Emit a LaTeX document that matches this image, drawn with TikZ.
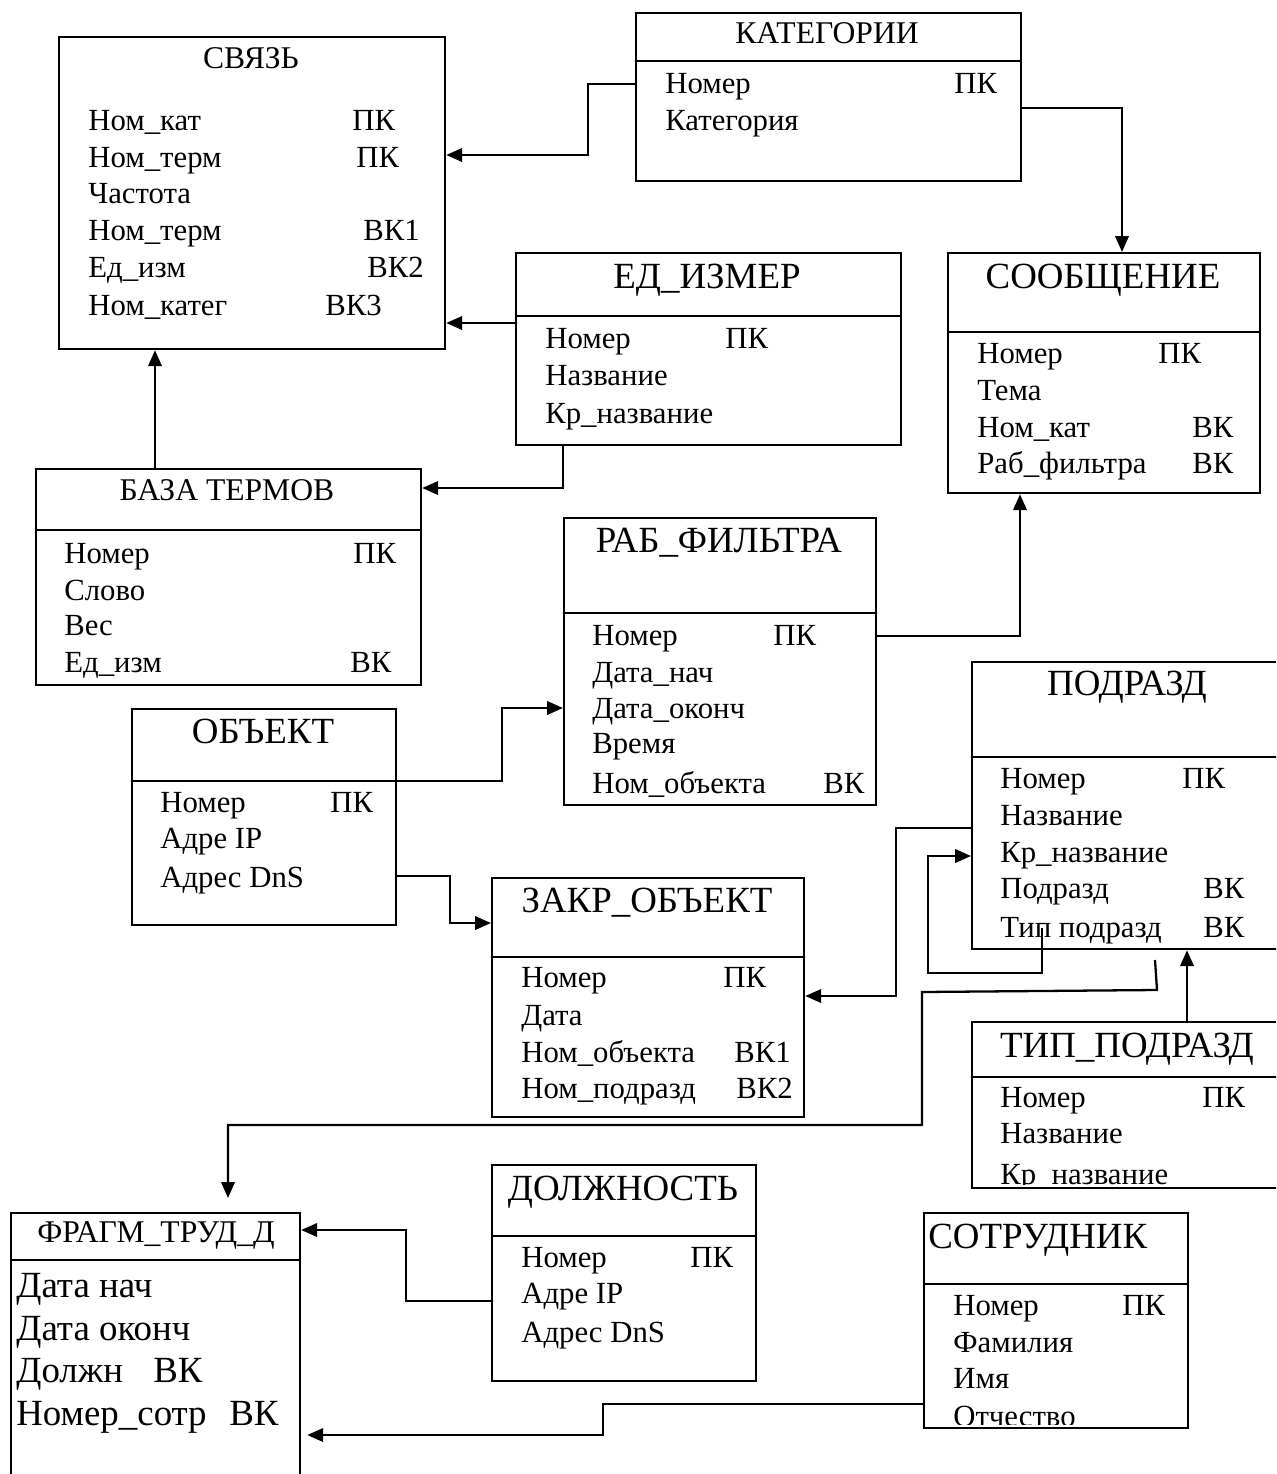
\documentclass[tikz,border=0pt]{standalone}
\usepackage{fontspec}
\setmainfont{Liberation Serif}
\usetikzlibrary{arrows.meta,positioning}

\begin{document}
\begin{tikzpicture}[
    x=0.02cm, y=-0.02cm,
    tbl/.style={draw, line width=1.3pt, anchor=north west, inner sep=0pt},
    sep/.style={line width=1.3pt},
    ttl/.style={anchor=base, inner sep=0pt, font=\fontsize{21}{24}\selectfont},
    sttl/.style={anchor=base, inner sep=0pt, font=\fontsize{18}{21}\selectfont},
    fld/.style={anchor=base west, inner sep=0pt, font=\fontsize{17.5}{20}\selectfont},
    bfld/.style={anchor=base west, inner sep=0pt, font=\fontsize{21}{24}\selectfont},
    conn/.style={line width=1.3pt, -{Triangle[length=0.32cm,width=0.27cm]}}
]
    \useasboundingbox (0,0) rectangle (1276,1474);
    \clip (0,0) rectangle (1276,1474);

    % СВЯЗЬ
    \node[tbl, minimum width=7.72cm, minimum height=6.24cm] (svyaz) at (58,36) {};
    \node[sttl] (svyaz-t) at (251,68) {СВЯЗЬ};
    \node[fld] (svyaz-1) at (88,130) {Ном\_кат};
    \node[fld] (svyaz-1k) at (352,130) {ПК};
    \node[fld] (svyaz-2) at (88,167) {Ном\_терм};
    \node[fld] (svyaz-2k) at (356,167) {ПК};
    \node[fld] (svyaz-3) at (88,203) {Частота};
    \node[fld] (svyaz-4) at (88,240) {Ном\_терм};
    \node[fld] (svyaz-4k) at (363,240) {ВК1};
    \node[fld] (svyaz-5) at (88,277) {Ед\_изм};
    \node[fld] (svyaz-5k) at (367,277) {ВК2};
    \node[fld] (svyaz-6) at (88,315) {Ном\_катег};
    \node[fld] (svyaz-6k) at (325,315) {ВК3};

    % КАТЕГОРИИ
    \node[tbl, minimum width=7.70cm, minimum height=3.36cm] (kateg) at (635,12) {};
    \draw[sep] (kateg.west |- 0,61) -- (kateg.east |- 0,61);
    \node[sttl] (kateg-t) at (827,43) {КАТЕГОРИИ};
    \node[fld] (kateg-1) at (665,93) {Номер};
    \node[fld] (kateg-1k) at (954,93) {ПК};
    \node[fld] (kateg-2) at (665,130) {Категория};

    % ЕД_ИЗМЕР
    \node[tbl, minimum width=7.70cm, minimum height=3.84cm] (edizm) at (515,252) {};
    \draw[sep] (edizm.west |- 0,316) -- (edizm.east |- 0,316);
    \node[ttl] (edizm-t) at (707,288) {ЕД\_ИЗМЕР};
    \node[fld] (edizm-1) at (545,348) {Номер};
    \node[fld] (edizm-1k) at (725,348) {ПК};
    \node[fld] (edizm-2) at (545,385) {Название};
    \node[fld] (edizm-3) at (545,423) {Кр\_название};

    % СООБЩЕНИЕ
    \node[tbl, minimum width=6.24cm, minimum height=4.80cm] (soobsch) at (947,252) {};
    \draw[sep] (soobsch.west |- 0,332) -- (soobsch.east |- 0,332);
    \node[ttl] (soobsch-t) at (1103,288) {СООБЩЕНИЕ};
    \node[fld] (soobsch-1) at (977,363) {Номер};
    \node[fld] (soobsch-1k) at (1158,363) {ПК};
    \node[fld] (soobsch-2) at (977,400) {Тема};
    \node[fld] (soobsch-3) at (977,437) {Ном\_кат};
    \node[fld] (soobsch-3k) at (1192,437) {ВК};
    \node[fld] (soobsch-4) at (977,473) {Раб\_фильтра};
    \node[fld] (soobsch-4k) at (1192,473) {ВК};

    % БАЗА ТЕРМОВ
    \node[tbl, minimum width=7.70cm, minimum height=4.32cm] (baza) at (35,468) {};
    \draw[sep] (baza.west |- 0,530) -- (baza.east |- 0,530);
    \node[sttl] (baza-t) at (227,500) {БАЗА ТЕРМОВ};
    \node[fld] (baza-1) at (64,563) {Номер};
    \node[fld] (baza-1k) at (353,563) {ПК};
    \node[fld] (baza-2) at (64,600) {Слово};
    \node[fld] (baza-3) at (64,635) {Вес};
    \node[fld] (baza-4) at (64,672) {Ед\_изм};
    \node[fld] (baza-4k) at (350,672) {ВК};

    % РАБ_ФИЛЬТРА
    \node[tbl, minimum width=6.24cm, minimum height=5.74cm] (rabf) at (563,517) {};
    \draw[sep] (rabf.west |- 0,613) -- (rabf.east |- 0,613);
    \node[ttl] (rabf-t) at (719,552) {РАБ\_ФИЛЬТРА};
    \node[fld] (rabf-1) at (592,645) {Номер};
    \node[fld] (rabf-1k) at (773,645) {ПК};
    \node[fld] (rabf-2) at (592,682) {Дата\_нач};
    \node[fld] (rabf-3) at (592,718) {Дата\_оконч};
    \node[fld] (rabf-4) at (592,753) {Время};
    \node[fld] (rabf-5) at (592,793) {Ном\_объекта};
    \node[fld] (rabf-5k) at (823,793) {ВК};

    % ОБЪЕКТ
    \node[tbl, minimum width=5.28cm, minimum height=4.32cm] (obj) at (131,708) {};
    \draw[sep] (obj.west |- 0,781) -- (obj.east |- 0,781);
    \node[ttl] (obj-t) at (263,743) {ОБЪЕКТ};
    \node[fld] (obj-1) at (160,812) {Номер};
    \node[fld] (obj-1k) at (330,812) {ПК};
    \node[fld] (obj-2) at (160,848) {Адре IP};
    \node[fld] (obj-3) at (160,887) {Адрес DnS};

    % ПОДРАЗД
    \node[tbl, minimum width=6.38cm, minimum height=5.74cm] (podr) at (971,661) {};
    \draw[sep] (podr.west |- 0,757) -- (podr.east |- 0,757);
    \node[ttl] (podr-t) at (1127,695) {ПОДРАЗД};
    \node[fld] (podr-1) at (1000,788) {Номер};
    \node[fld] (podr-1k) at (1182,788) {ПК};
    \node[fld] (podr-2) at (1000,825) {Название};
    \node[fld] (podr-3) at (1000,862) {Кр\_название};
    \node[fld] (podr-4) at (1000,898) {Подразд};
    \node[fld] (podr-4k) at (1203,898) {ВК};
    \node[fld] (podr-5) at (1000,937) {Тип подразд};
    \node[fld] (podr-5k) at (1203,937) {ВК};

    % ЗАКР_ОБЪЕКТ
    \node[tbl, minimum width=6.24cm, minimum height=4.78cm] (zakr) at (491,877) {};
    \draw[sep] (zakr.west |- 0,957) -- (zakr.east |- 0,957);
    \node[ttl] (zakr-t) at (647,912) {ЗАКР\_ОБЪЕКТ};
    \node[fld] (zakr-1) at (521,987) {Номер};
    \node[fld] (zakr-1k) at (723,987) {ПК};
    \node[fld] (zakr-2) at (521,1025) {Дата};
    \node[fld] (zakr-3) at (521,1062) {Ном\_объекта};
    \node[fld] (zakr-3k) at (734,1062) {ВК1};
    \node[fld] (zakr-4) at (521,1098) {Ном\_подразд};
    \node[fld] (zakr-4k) at (736,1098) {ВК2};

    % ТИП_ПОДРАЗД
    \node[tbl, minimum width=6.38cm, minimum height=3.32cm] (tip) at (971,1021) {};
    \draw[sep] (tip.west |- 0,1077) -- (tip.east |- 0,1077);
    \node[ttl] (tip-t) at (1127,1057) {ТИП\_ПОДРАЗД};
    \node[fld] (tip-1) at (1000,1107) {Номер};
    \node[fld] (tip-1k) at (1202,1107) {ПК};
    \node[fld] (tip-2) at (1000,1143) {Название};
    \begin{scope}
        \clip (tip.north west) rectangle ([yshift=0.1cm]tip.south east);
        \node[fld] (tip-3) at (1000,1184) {Кр\_название};
    \end{scope}

    % ДОЛЖНОСТЬ
    \node[tbl, minimum width=5.28cm, minimum height=4.32cm] (dolzh) at (491,1164) {};
    \draw[sep] (dolzh.west |- 0,1236) -- (dolzh.east |- 0,1236);
    \node[ttl] (dolzh-t) at (623,1200) {ДОЛЖНОСТЬ};
    \node[fld] (dolzh-1) at (521,1267) {Номер};
    \node[fld] (dolzh-1k) at (690,1267) {ПК};
    \node[fld] (dolzh-2) at (521,1303) {Адре IP};
    \node[fld] (dolzh-3) at (521,1342) {Адрес DnS};

    % СОТРУДНИК
    \node[tbl, minimum width=5.28cm, minimum height=4.30cm] (sotr) at (923,1212) {};
    \draw[sep] (sotr.west |- 0,1284) -- (sotr.east |- 0,1284);
    \node[ttl, anchor=base west] (sotr-t) at (928,1248) {СОТРУДНИК};
    \node[fld] (sotr-1) at (953,1315) {Номер};
    \node[fld] (sotr-1k) at (1122,1315) {ПК};
    \node[fld] (sotr-2) at (953,1352) {Фамилия};
    \node[fld] (sotr-3) at (953,1388) {Имя};
    \begin{scope}
        \clip (sotr.north west) rectangle ([yshift=0.1cm]sotr.south east);
        \node[fld] (sotr-4) at (953,1426) {Отчество};
    \end{scope}

    % ФРАГМ_ТРУД_Д
    \node[tbl, minimum width=5.78cm, minimum height=5.76cm] (fragm) at (10,1212) {};
    \draw[sep] (fragm.west |- 0,1260) -- (fragm.east |- 0,1260);
    \node[sttl] (fragm-t) at (156,1242) {ФРАГМ\_ТРУД\_Д};
    \node[bfld] (fragm-1) at (16,1297) {Дата нач};
    \node[bfld] (fragm-2) at (16,1340) {Дата оконч};
    \node[bfld] (fragm-3) at (16,1382) {Должн};
    \node[bfld] (fragm-3k) at (153,1382) {ВК};
    \node[bfld] (fragm-4) at (16,1425) {Номер\_сотр};
    \node[bfld] (fragm-4k) at (229,1425) {ВК};

    % links
    \draw[conn] (kateg.west |- 0,84) -- (588,84) |- (svyaz.east |- 0,155);
    \draw[conn] (kateg.east |- 0,108) -| (1122,0 |- soobsch.north);
    \draw[conn] (edizm.west |- 0,323) -- (svyaz.east |- 0,323);
    \draw[conn] (563,0 |- edizm.south) |- (baza.east |- 0,488);
    \draw[conn] (155,0 |- baza.north) -- (155,0 |- svyaz.south);
    \draw[conn] (rabf.east |- 0,636) -| (1020,0 |- soobsch.south);
    \draw[conn] (obj.east |- 0,781) -- (502,781) |- (rabf.west |- 0,708);
    \draw[conn] (obj.east |- 0,876) -- (450,876) |- (zakr.west |- 0,923);
    \draw[conn] (podr.west |- 0,828) -- (896,828) |- (zakr.east |- 0,996);
    \coordinate (loopstart) at (1042,928);
    \draw[conn] (loopstart) -- (1042,973) -- (928,973) |- (podr.west |- 0,856);
    \coordinate (podrout) at (1155,960);
    \draw[conn, shorten >=0.28cm] (podrout) -- (1157,990) -- (922,992) -- (922,1125) -| (228,0 |- fragm.north);
    \draw[conn] (1187,0 |- tip.north) -- (1187,0 |- podr.south);
    \draw[conn] (dolzh.west |- 0,1301) -- (406,1301) |- (fragm.east |- 0,1230);
    \draw[conn, shorten >=0.12cm] (sotr.west |- 0,1404) -- (603,1404) |- (fragm.east |- 0,1435);
\end{tikzpicture}
\end{document}
